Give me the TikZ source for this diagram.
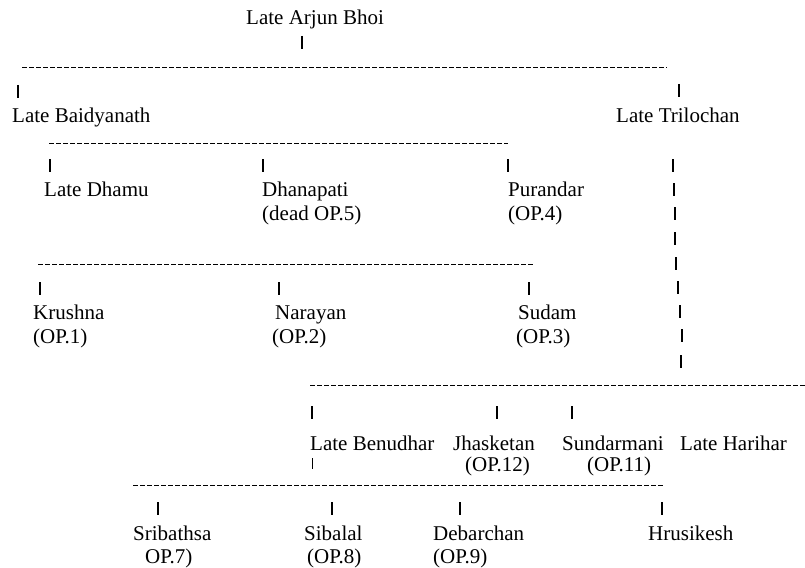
\documentclass[tikz,border=0pt]{standalone}
\usepackage{fontspec}
\setmainfont{Liberation Serif}
\usepackage{tikz}

\begin{document}
\begin{tikzpicture}[x=1pt, y=-1pt, person/.style = {anchor=base west,
          inner sep=0pt, font=\fontsize{21}{23}\selectfont},
        sibline/.style = {dash pattern=on 5pt off 2pt, line width=1pt},
        pipe/.style = {line width=1.4pt}, thinpipe/.style = {line width=0.7pt}]

        \useasboundingbox (0,0) rectangle (805,567);

        \node [person] (Arjun) at (246,25) {Late Arjun Bhoi};
        \node [person] (Baidyanath) at (12,123) {Late Baidyanath};
        \node [person] (Trilochan) at (616,123) {Late Trilochan};
        \node [person] (Dhamu) at (44,196) {Late Dhamu};
        \node [person] (Dhanapati) at (262,196) {Dhanapati};
        \node [person] (DhanapatiOP) at (262,220) {(dead OP.5)};
        \node [person] (Purandar) at (508,196) {Purandar};
        \node [person] (PurandarOP) at (508,220) {(OP.4)};
        \node [person] (Krushna) at (33,319) {Krushna};
        \node [person] (KrushnaOP) at (33,343) {(OP.1)};
        \node [person] (Narayan) at (275,319) {Narayan};
        \node [person] (NarayanOP) at (272,343) {(OP.2)};
        \node [person] (Sudam) at (518,319) {Sudam};
        \node [person] (SudamOP) at (516,343) {(OP.3)};
        \node [person] (Benudhar) at (310,450) {Late Benudhar};
        \node [person] (Jhasketan) at (453,450) {Jhasketan};
        \node [person] (JhasketanOP) at (465,471) {(OP.12)};
        \node [person] (Sundarmani) at (562,450) {Sundarmani};
        \node [person] (SundarmaniOP) at (587,471) {(OP.11)};
        \node [person] (Harihar) at (680,450) {Late Harihar};
        \node [person] (Sribathsa) at (133,540) {Sribathsa};
        \node [person] (SribathsaOP) at (145,563) {OP.7)};
        \node [person] (Sibalal) at (304,540) {Sibalal};
        \node [person] (SibalalOP) at (307,563) {(OP.8)};
        \node [person] (Debarchan) at (433,540) {Debarchan};
        \node [person] (DebarchanOP) at (433,563) {(OP.9)};
        \node [person] (Hrusikesh) at (648,540) {Hrusikesh};

        \coordinate (gen1w) at (22,68);   \coordinate (gen1e) at (667,68);
        \coordinate (gen2w) at (49,143);  \coordinate (gen2e) at (508,143);
        \coordinate (gen3w) at (38,264);  \coordinate (gen3e) at (533,264);
        \coordinate (gen4w) at (310,385); \coordinate (gen4e) at (805,385);
        \coordinate (gen5w) at (133,485); \coordinate (gen5e) at (663,485);

        \draw [sibline] (gen1w) -- (gen1e);
        \draw [sibline] (gen2w) -- (gen2e);
        \draw [sibline] (gen3w) -- (gen3e);
        \draw [sibline] (gen4w) -- (gen4e);
        \draw [sibline] (gen5w) -- (gen5e);

        \foreach \x/\y in {302/36, 18/85, 679/84, 50/159, 263/159, 508/159,
          673/159, 674/183, 675/207, 675/232, 676/257, 678/281, 680/305,
          682/329, 681/355, 40/282, 279/282, 529/282, 312/406, 497/406,
          572/406, 158/502, 332/502, 460/502, 662/502}
          \draw [pipe] (\x,\y) -- ++(0,13);
        \draw [thinpipe] (312,458) -- ++(0,11);
      \end{tikzpicture}
\end{document}
